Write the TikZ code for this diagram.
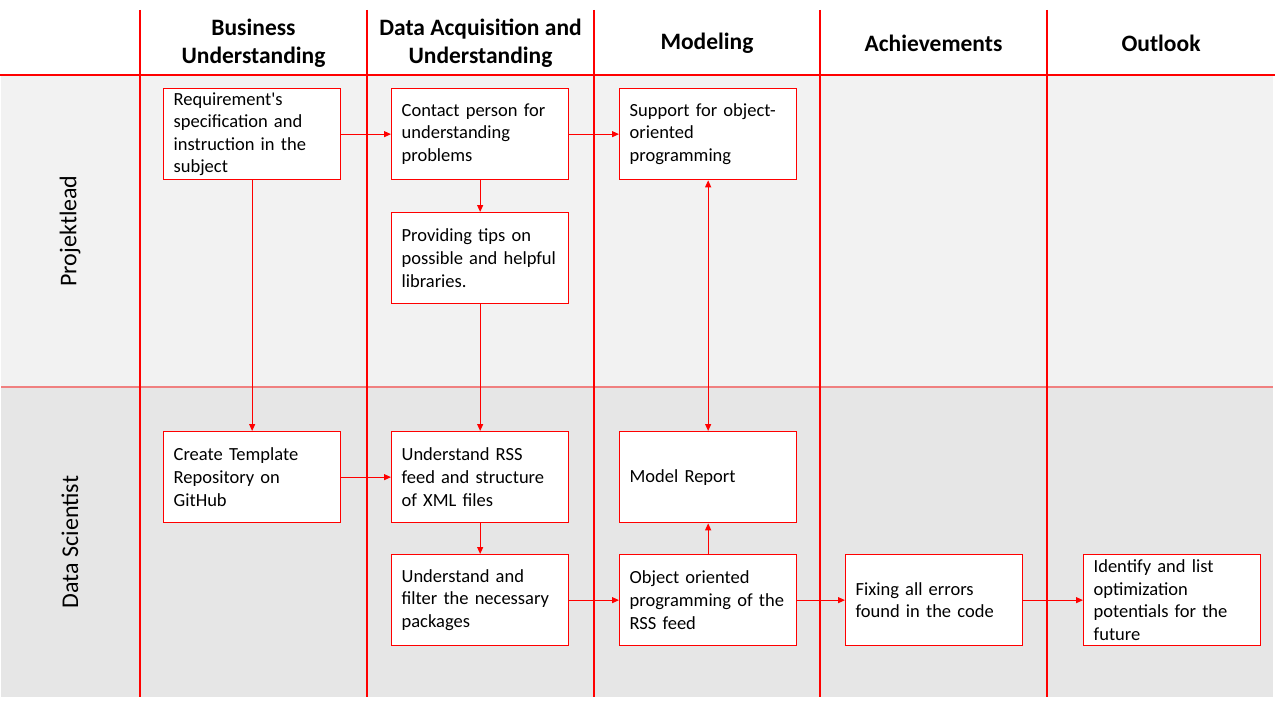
\documentclass[tikz,border=0pt]{standalone}
\usepackage{fontspec}
\setmainfont{Carlito}
\font\carq="Carlito" at 18.5pt
\newcommand{\sq}{{\carq\char"27}}
\usetikzlibrary{arrows.meta}
\definecolor{lred}{HTML}{FF0000}
\definecolor{laneA}{HTML}{F2F2F2}
\definecolor{laneB}{HTML}{E6E6E6}
\definecolor{lsep}{HTML}{F08080}
\begin{document}
\begin{tikzpicture}[x=1pt,y=-1pt,
 stepbox/.style={draw=lred,line width=1.3pt,fill=white,minimum width=177pt,minimum height=91pt,text width=157pt,inner xsep=10pt,inner ysep=0pt,align=left,font=\fontsize{18.5}{22.6}\selectfont,anchor=north west},
 hdr/.style={font=\bfseries\fontsize{23.5}{28}\selectfont,align=center},
 lanelabel/.style={font=\fontsize{24}{28}\selectfont,rotate=90},
 flow/.style={draw=lred,line width=1pt,-{Triangle[length=7pt,width=6pt]}},
 sep/.style={draw=lred,line width=1.5pt},
]
\useasboundingbox[fill=white] (0,0) rectangle (1275,706);
% lanes
\fill[laneA] (1,75) rectangle (1273,387);
\fill[laneB] (1,387) rectangle (1273,697);
\draw[lsep,line width=1.2pt] (1,387) -- (1273,387);
\draw[sep] (0,75) -- (1275,75);
\foreach \x in {140,367,594,820,1047} \draw[sep] (\x,10) -- (\x,697);
% headers
\node[hdr] (h1) at (253.5,43) {Business\\Understanding};
\node[hdr] (h2) at (480.5,43) {Data Acquisition and\\Understanding};
\node[hdr] (h3) at (707,43) {Modeling};
\node[hdr] (h4) at (933.5,43) {Achievements};
\node[hdr] (h5) at (1161,43) {Outlook};
\node[lanelabel] (l1) at (70,231) {Projektlead};
\node[lanelabel] (l2) at (70,542) {Data Scientist};
% boxes
\node[stepbox] (b1) at (163,88) {Requirement\sq s\\specification and\\instruction in the\\subject};
\node[stepbox] (b2) at (391,88) {Contact person for\\understanding\\problems};
\node[stepbox] (b3) at (391,212) {Providing tips on\\possible and helpful\\libraries.};
\node[stepbox] (b4) at (619,88) {Support for object-\\oriented\\programming};
\node[stepbox] (b5) at (163,431) {Create Template\\Repository on\\GitHub};
\node[stepbox] (b6) at (391,431) {Understand RSS\\feed and structure\\of XML files};
\node[stepbox] (b7) at (391,554) {Understand and\\filter the necessary\\packages};
\node[stepbox] (b8) at (619,431) {Model Report};
\node[stepbox] (b9) at (619,554) {Object oriented\\programming of the\\RSS feed};
\node[stepbox] (b10) at (845,554) {Fixing all errors\\found in the code};
\node[stepbox] (b11) at (1083,554) {Identify and list\\optimization\\potentials for the\\future};
% connectors
\draw[flow] (b1) -- (b2);
\draw[flow] (b2) -- (b4);
\draw[flow] (b2) -- (b3);
\draw[flow] (b1) -- (b5);
\draw[flow] (b3) -- (b6);
\draw[flow,{Triangle[length=7pt,width=6pt]}-{Triangle[length=7pt,width=6pt]}] (b4) -- (b8);
\draw[flow] (b5) -- (b6);
\draw[flow] (b6) -- (b7);
\draw[flow] (b7) -- (b9);
\draw[flow] (b9) -- (b8);
\draw[flow] (b9) -- (b10);
\draw[flow] (b10) -- (b11);
\end{tikzpicture}
\end{document}
